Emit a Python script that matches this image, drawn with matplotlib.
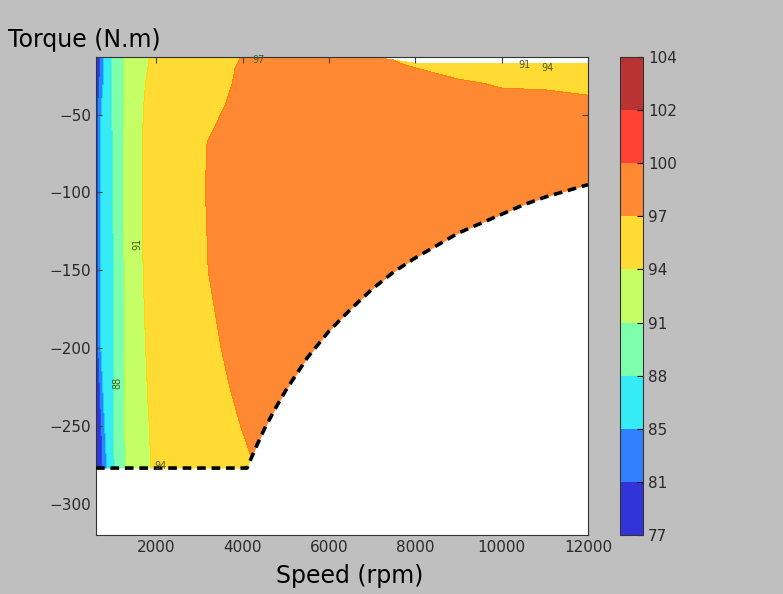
import numpy as np
import matplotlib
matplotlib.use("Agg")
import matplotlib.pyplot as plt

# ---- data ----
speeds = [600, 700, 800, 1000, 1250, 1500, 1800, 2200, 2700, 3200, 3700, 4200,
          5000, 6000, 7000, 8000, 9000, 10000, 11000, 12000]
torques = [-13, -17, -20, -30, -45, -70, -100, -150, -200, -250, -280, -320]

nan = float("nan")
eff_t13 = [78.0, 81.5, 86.0, 88.6, 91.1, 92.6, 93.9, 95.0, 96.0, 96.5, 96.8, 97.2, 97.6, 97.5, 97.2, nan, nan, nan, nan, nan]
eff_t17 = [78.1, 81.6, 86.1, 88.55, 91.1, 92.7, 93.95, 95.05, 96.05, 96.55, 96.85, 97.25, 97.7, 97.65, 97.35, 96.8, 96.4, 96.15, 96.0, 95.75]
eff_t20 = [78.2, 81.8, 86.2, 88.5, 91.1, 92.8, 94.0, 95.1, 96.1, 96.6, 96.9, 97.3, 97.8, 97.8, 97.5, 97.0, 96.6, 96.3, 96.2, 96.0]
eff_t30 = [78.5, 82.5, 86.4, 88.4, 91.2, 93.0, 94.2, 95.2, 96.2, 96.7, 96.95, 97.4, 98.0, 98.1, 98.0, 97.6, 97.15, 96.9, 96.85, 96.7]
eff_t45 = [79.0, 84.5, 86.6, 88.3, 91.2, 93.2, 94.4, 95.3, 96.3, 96.7, 97.1, 97.6, 98.2, 98.4, 98.4, 98.2, 97.8, 97.4, 97.4, 97.3]
eff_t70 = [79.0, 85.2, 86.6, 88.2, 91.1, 93.3, 94.5, 95.5, 96.4, 97.05, 97.5, 97.9, 98.4, 98.6, 98.7, 98.7, 98.6, 98.4, 98.3, 98.2]
eff_t100 = [79.0, 85.2, 86.5, 88.1, 91.1, 93.3, 94.5, 95.5, 96.3, 97.1, 97.5, 97.9, 98.4, 98.7, 98.8, 98.9, 98.9, 98.9, 98.9, 98.8]
eff_t150 = [79.0, 85.2, 86.5, 88.0, 91.0, 93.3, 94.4, 95.4, 96.2, 97.0, 97.4, 97.8, 98.4, 98.7, 98.8, 98.9, 98.9, 98.9, 98.9, 98.8]
eff_t200 = [78.8, 84.8, 86.4, 88.0, 90.9, 93.0, 94.2, 95.2, 96.0, 96.7, 97.2, 97.6, 98.2, 98.6, 98.8, 98.9, 98.9, 98.9, 98.9, 98.8]
eff_t250 = [78.0, 80.5, 85.0, 88.0, 90.9, 92.5, 93.9, 95.0, 95.8, 96.3, 96.8, 97.2, 97.8, 98.2, 98.5, 98.6, 98.7, 98.7, 98.7, 98.7]
eff_t280 = [77.5, 79.5, 84.0, 87.7, 90.8, 92.3, 93.8, 94.9, 95.6, 96.1, 96.5, 96.9, 97.5, 98.0, 98.3, 98.4, 98.5, 98.5, 98.5, 98.5]
eff_t320 = [77.5, 79.5, 84.0, 87.7, 90.8, 92.3, 93.8, 94.9, 95.6, 96.1, 96.5, 96.9, 97.5, 98.0, 98.3, 98.4, 98.5, 98.5, 98.5, 98.5]

levels = [77, 81, 85, 88, 91, 94, 97, 100, 102, 104]

# torque limit envelope (dashed line)
limit_speed = [600, 4100, 4300, 4500, 4750, 5000, 5500, 6000, 6500, 7000, 7500,
               8000, 8500, 9000, 9500, 10000, 10500, 11000, 11500, 12000]
limit_torque = [-277, -277, -264, -252, -239, -227, -206, -189, -175, -162, -151,
                -142, -134, -126, -120, -114, -108, -103, -99, -95]

# contour labels seen on the chart
label_text = ["91", "88", "94", "97", "91", "94"]
label_speed = [1560, 1090, 2090, 4370, 10540, 11070]
label_torque = [-133, -222, -276, -15, -18, -20]
label_rot = [90, 90, 0, 0, 0, 0]

eff = np.array([eff_t13, eff_t17, eff_t20, eff_t30, eff_t45, eff_t70, eff_t100,
                eff_t150, eff_t200, eff_t250, eff_t280, eff_t320])

# ---- figure ----
W, H = 783, 594
fig = plt.figure(figsize=(W / 100, H / 100), dpi=100, facecolor="#bfbfbf")
ax = fig.add_axes([96 / W, 59 / H, 492 / W, 478 / H])
ax.set_facecolor("white")

cs = ax.contourf(speeds, torques, np.ma.masked_invalid(eff), levels=levels,
                 cmap="jet", alpha=0.8, zorder=1)
ax.fill_between(limit_speed, limit_torque, -400, color="white", zorder=2,
                linewidth=0)
ax.plot(limit_speed, limit_torque, color="black", lw=2.6,
        linestyle=(0, (2.4, 1.6)), zorder=3)

for t, s, q, r in zip(label_text, label_speed, label_torque, label_rot):
    ax.text(s, q, t, fontsize=7, color="#4a5a20", rotation=r,
            ha="center", va="center", zorder=4)

ax.set_xlim(600, 12000)
ax.set_ylim(-320, -13)
ax.set_xticks([2000, 4000, 6000, 8000, 10000, 12000])
ax.set_yticks([-50, -100, -150, -200, -250, -300])
ax.tick_params(direction="in", top=True, right=True, labelsize=11,
               labelcolor="#2a2a2a", length=4, color="#444444")
for sp in ax.spines.values():
    sp.set_color("#333333")
ax.set_yticklabels(["\u221250", "\u2212100", "\u2212150", "\u2212200",
                    "\u2212250", "\u2212300"])

cax = fig.add_axes([620 / W, 59 / H, 23 / W, 478 / H])
cb = fig.colorbar(cs, cax=cax)
cb.set_ticks(levels)
cb.ax.tick_params(labelsize=11, labelcolor="#2a2a2a", direction="in",
                  length=4)
cb.outline.set_edgecolor("#333333")

fig.text(8 / W, 1 - 40 / H, "Torque (N.m)", fontsize=17, ha="left",
         va="center", color="black")
fig.text(350 / W, 1 - 576 / H, "Speed (rpm)", fontsize=17, ha="center",
         va="center", color="black")

fig.savefig("out.png", dpi=100, facecolor=fig.get_facecolor())
